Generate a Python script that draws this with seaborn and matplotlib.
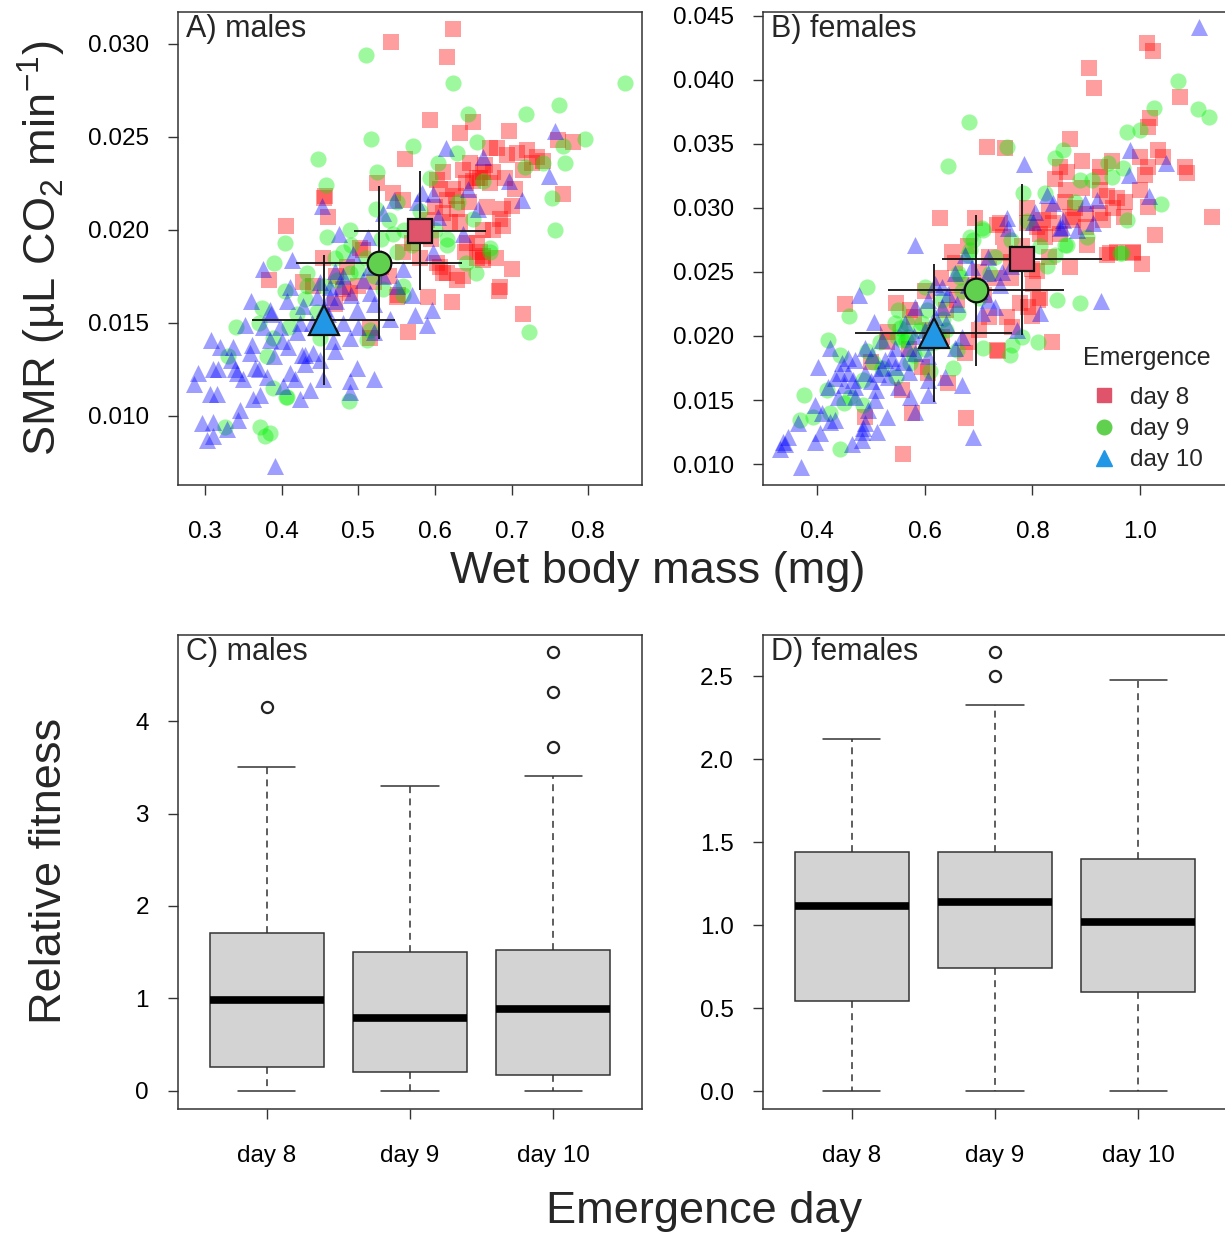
import numpy as np
import pandas as pd
import matplotlib
matplotlib.use("Agg")
import matplotlib.pyplot as plt
import seaborn as sns
from matplotlib.lines import Line2D

days = ["day 8", "day 9", "day 10"]

# ---- A) males: (wet body mass mg, SMR) ----
males_d8 = [
    (0.624, 0.0308), (0.543, 0.0301), (0.616, 0.0293), (0.594, 0.0259), (0.633, 0.0252), (0.650, 0.0258),
    (0.696, 0.0253), (0.780, 0.0247), (0.761, 0.0248), (0.561, 0.0238), (0.767, 0.0219), (0.525, 0.0225),
    (0.455, 0.0217), (0.461, 0.0207), (0.406, 0.0202), (0.672, 0.0244), (0.681, 0.0244), (0.694, 0.0240),
    (0.707, 0.0241), (0.720, 0.0243), (0.733, 0.0239), (0.741, 0.0237), (0.659, 0.0228), (0.663, 0.0231),
    (0.655, 0.0228), (0.676, 0.0231), (0.672, 0.0225), (0.646, 0.0236), (0.637, 0.0232), (0.611, 0.0231),
    (0.603, 0.0227), (0.607, 0.0222), (0.616, 0.0216), (0.624, 0.0222), (0.545, 0.0220), (0.558, 0.0216),
    (0.629, 0.0211), (0.611, 0.0209), (0.620, 0.0204), (0.633, 0.0204), (0.668, 0.0212), (0.689, 0.0211),
    (0.701, 0.0213), (0.685, 0.0206), (0.689, 0.0202), (0.676, 0.0200), (0.642, 0.0193), (0.655, 0.0193),
    (0.639, 0.0188), (0.659, 0.0188), (0.663, 0.0184), (0.679, 0.0185), (0.701, 0.0179), (0.607, 0.0180),
    (0.611, 0.0177), (0.629, 0.0173), (0.685, 0.0169), (0.684, 0.0167), (0.622, 0.0161), (0.591, 0.0164),
    (0.565, 0.0145), (0.715, 0.0155), (0.616, 0.0177), (0.663, 0.0186), (0.384, 0.0173), (0.428, 0.0172),
    (0.441, 0.0170), (0.454, 0.0185), (0.515, 0.0142), (0.515, 0.0147), (0.480, 0.0168), (0.489, 0.0166),
    (0.506, 0.0189), (0.558, 0.0188), (0.581, 0.0185), (0.457, 0.0218), (0.471, 0.0175), (0.502, 0.0190),
    (0.551, 0.0164), (0.637, 0.0175), (0.655, 0.0185), (0.663, 0.0200), (0.603, 0.0182), (0.552, 0.0165),
    (0.650, 0.0226), (0.665, 0.0235), (0.640, 0.0225), (0.628, 0.0218), (0.692, 0.0228), (0.705, 0.0222),
    (0.600, 0.0212), (0.590, 0.0205), (0.575, 0.0200), (0.570, 0.0193), (0.530, 0.0180), (0.520, 0.0172),
    (0.500, 0.0170), (0.540, 0.0175), (0.470, 0.0160), (0.485, 0.0180), (0.595, 0.0195), (0.645, 0.0215),
    (0.715, 0.0232), (0.727, 0.0236),
]
males_d9 = [
    (0.510, 0.0294), (0.624, 0.0279), (0.848, 0.0279), (0.762, 0.0267), (0.719, 0.0262), (0.643, 0.0262),
    (0.517, 0.0249), (0.572, 0.0245), (0.796, 0.0249), (0.767, 0.0245), (0.448, 0.0238), (0.769, 0.0236),
    (0.718, 0.0234), (0.741, 0.0236), (0.629, 0.0241), (0.604, 0.0236), (0.655, 0.0247), (0.458, 0.0224),
    (0.525, 0.0231), (0.753, 0.0217), (0.757, 0.0200), (0.523, 0.0211), (0.459, 0.0196), (0.404, 0.0193),
    (0.489, 0.0200), (0.594, 0.0228), (0.650, 0.0206), (0.616, 0.0195), (0.672, 0.0190), (0.663, 0.0226),
    (0.390, 0.0182), (0.340, 0.0148), (0.374, 0.0158), (0.404, 0.0167), (0.433, 0.0177), (0.433, 0.0170),
    (0.489, 0.0177), (0.532, 0.0168), (0.558, 0.0170), (0.558, 0.0165), (0.641, 0.0182), (0.654, 0.0177),
    (0.672, 0.0188), (0.723, 0.0145), (0.488, 0.0108), (0.372, 0.0094), (0.385, 0.0091), (0.378, 0.0089),
    (0.407, 0.0110), (0.389, 0.0115), (0.326, 0.0094), (0.330, 0.0132), (0.381, 0.0132), (0.389, 0.0142),
    (0.511, 0.0141), (0.515, 0.0146), (0.450, 0.0142), (0.472, 0.0173), (0.480, 0.0188), (0.616, 0.0192),
    (0.446, 0.0156), (0.420, 0.0155), (0.406, 0.0110), (0.530, 0.0195), (0.550, 0.0188), (0.510, 0.0185),
    (0.560, 0.0200), (0.500, 0.0178), (0.540, 0.0205), (0.570, 0.0192), (0.470, 0.0185), (0.520, 0.0175),
    (0.545, 0.0198), (0.490, 0.0192), (0.430, 0.0163), (0.455, 0.0170), (0.580, 0.0210), (0.600, 0.0200),
    (0.370, 0.0150), (0.410, 0.0148), (0.550, 0.0215), (0.630, 0.0215),
]
males_d10 = [
    (0.414, 0.0184), (0.376, 0.0179), (0.352, 0.0149), (0.308, 0.0141), (0.320, 0.0137), (0.337, 0.0137),
    (0.361, 0.0138), (0.291, 0.0123), (0.286, 0.0117), (0.310, 0.0125), (0.342, 0.0123), (0.307, 0.0112),
    (0.316, 0.0112), (0.346, 0.0103), (0.363, 0.0109), (0.372, 0.0111), (0.296, 0.0096), (0.310, 0.0097),
    (0.303, 0.0087), (0.310, 0.0089), (0.343, 0.0098), (0.329, 0.0093), (0.391, 0.0073), (0.381, 0.0121),
    (0.402, 0.0116), (0.424, 0.0109), (0.437, 0.0114), (0.411, 0.0123), (0.498, 0.0126), (0.489, 0.0119),
    (0.489, 0.0113), (0.521, 0.0120), (0.574, 0.0154), (0.590, 0.0149), (0.596, 0.0157), (0.542, 0.0152),
    (0.489, 0.0142), (0.467, 0.0140), (0.441, 0.0134), (0.427, 0.0133), (0.385, 0.0141), (0.398, 0.0148),
    (0.376, 0.0148), (0.385, 0.0157), (0.407, 0.0162), (0.428, 0.0159), (0.463, 0.0164), (0.471, 0.0162),
    (0.498, 0.0157), (0.515, 0.0166), (0.506, 0.0173), (0.493, 0.0187), (0.463, 0.0169), (0.446, 0.0164),
    (0.411, 0.0169), (0.515, 0.0180), (0.532, 0.0175), (0.558, 0.0179), (0.597, 0.0188), (0.424, 0.0150),
    (0.615, 0.0244), (0.663, 0.0239), (0.757, 0.0253), (0.749, 0.0229), (0.697, 0.0226), (0.714, 0.0216),
    (0.643, 0.0222), (0.656, 0.0211), (0.597, 0.0219), (0.583, 0.0220), (0.577, 0.0215), (0.547, 0.0216),
    (0.453, 0.0213), (0.475, 0.0198), (0.513, 0.0196), (0.532, 0.0209), (0.604, 0.0207), (0.637, 0.0198),
    (0.365, 0.0126), (0.339, 0.0125), (0.317, 0.0125), (0.334, 0.0130), (0.359, 0.0134), (0.417, 0.0120),
    (0.454, 0.0120), (0.431, 0.0133), (0.408, 0.0137), (0.386, 0.0155), (0.450, 0.0172), (0.478, 0.0170),
    (0.490, 0.0165), (0.470, 0.0178), (0.520, 0.0160), (0.455, 0.0158), (0.420, 0.0145), (0.440, 0.0150),
    (0.460, 0.0155), (0.480, 0.0150), (0.400, 0.0140), (0.430, 0.0128), (0.450, 0.0130), (0.470, 0.0135),
    (0.500, 0.0148), (0.520, 0.0145), (0.390, 0.0132), (0.370, 0.0125), (0.350, 0.0120), (0.530, 0.0185),
    (0.550, 0.0170), (0.480, 0.0175), (0.570, 0.0165), (0.360, 0.0162),
]

# ---- B) females ----
females_d8 = [
    (1.013, 0.0429), (1.024, 0.0423), (0.905, 0.0409), (0.914, 0.0394), (1.074, 0.0387), (1.018, 0.0370),
    (1.015, 0.0363), (0.870, 0.0354), (0.716, 0.0348), (0.749, 0.0347), (0.892, 0.0337), (0.948, 0.0337),
    (1.033, 0.0345), (1.043, 0.0340), (1.000, 0.0340), (1.015, 0.0332), (1.083, 0.0332), (1.087, 0.0327),
    (1.009, 0.0326), (0.851, 0.0332), (0.842, 0.0323), (0.864, 0.0328), (0.926, 0.0332), (0.926, 0.0324),
    (0.862, 0.0314), (0.892, 0.0316), (0.926, 0.0314), (0.939, 0.0309), (0.957, 0.0308), (0.972, 0.0305),
    (1.000, 0.0314), (1.015, 0.0301), (1.133, 0.0293), (1.028, 0.0279), (0.790, 0.0300), (0.820, 0.0291),
    (0.838, 0.0288), (0.851, 0.0280), (0.870, 0.0293), (0.875, 0.0291), (0.931, 0.0291), (0.926, 0.0296),
    (0.901, 0.0271), (0.944, 0.0265), (0.987, 0.0266), (0.740, 0.0288), (0.693, 0.0292), (0.823, 0.0277),
    (0.809, 0.0285), (0.628, 0.0292), (0.452, 0.0225), (0.547, 0.0226), (0.573, 0.0220), (0.651, 0.0266),
    (0.656, 0.0257), (0.799, 0.0252), (0.870, 0.0254), (0.939, 0.0263), (0.957, 0.0266), (0.987, 0.0265),
    (1.004, 0.0256), (0.836, 0.0195), (0.736, 0.0188), (0.677, 0.0136), (0.560, 0.0108), (0.576, 0.0140),
    (0.643, 0.0163), (0.792, 0.0223), (0.810, 0.0228), (0.799, 0.0216), (0.762, 0.0207), (0.675, 0.0187),
    (0.680, 0.0195), (0.632, 0.0199), (0.595, 0.0176), (0.606, 0.0171), (0.558, 0.0158), (0.489, 0.0137),
    (0.734, 0.0287), (0.745, 0.0277), (0.790, 0.0288), (0.814, 0.0280), (0.809, 0.0251), (0.801, 0.0241),
    (0.777, 0.0226), (0.814, 0.0230), (0.753, 0.0215), (0.734, 0.0189), (0.532, 0.0203), (0.600, 0.0235),
    (0.630, 0.0245), (0.660, 0.0240), (0.700, 0.0250), (0.720, 0.0262), (0.680, 0.0270), (0.750, 0.0265),
    (0.580, 0.0215), (0.530, 0.0195), (0.500, 0.0180), (0.710, 0.0232), (0.760, 0.0245), (0.880, 0.0300),
    (0.900, 0.0295), (0.950, 0.0300), (0.970, 0.0293), (0.860, 0.0305), (0.830, 0.0298), (0.780, 0.0270),
    (0.760, 0.0258), (0.730, 0.0245), (0.690, 0.0240), (0.660, 0.0228), (0.640, 0.0220), (0.700, 0.0205),
    (0.720, 0.0215), (0.610, 0.0205), (0.570, 0.0190), (0.830, 0.0262), (0.900, 0.0285),
]
females_d9 = [
    (0.682, 0.0367), (0.753, 0.0348), (1.070, 0.0399), (1.026, 0.0378), (1.108, 0.0377), (1.128, 0.0371),
    (0.976, 0.0359), (1.000, 0.0361), (0.842, 0.0339), (0.857, 0.0345), (0.940, 0.0335), (0.968, 0.0331),
    (0.948, 0.0324), (0.888, 0.0322), (0.911, 0.0322), (0.823, 0.0312), (0.782, 0.0312), (0.976, 0.0291),
    (1.039, 0.0303), (0.861, 0.0271), (0.901, 0.0277), (0.963, 0.0265), (0.706, 0.0284), (0.690, 0.0275),
    (0.643, 0.0333), (0.842, 0.0263), (0.966, 0.0265), (0.846, 0.0228), (0.888, 0.0226), (0.810, 0.0195),
    (0.758, 0.0185), (0.762, 0.0193), (0.781, 0.0199), (0.708, 0.0191), (0.653, 0.0175), (0.662, 0.0249),
    (0.680, 0.0263), (0.493, 0.0238), (0.459, 0.0216), (0.420, 0.0197), (0.443, 0.0185), (0.419, 0.0158),
    (0.376, 0.0154), (0.368, 0.0134), (0.443, 0.0112), (0.450, 0.0148), (0.485, 0.0146), (0.545, 0.0210),
    (0.558, 0.0197), (0.600, 0.0238), (0.632, 0.0228), (0.662, 0.0218), (0.595, 0.0210), (0.569, 0.0199),
    (0.684, 0.0277), (0.708, 0.0283), (0.684, 0.0267), (0.665, 0.0246), (0.721, 0.0249), (0.814, 0.0270),
    (0.827, 0.0255), (0.864, 0.0271), (0.660, 0.0189), (0.591, 0.0205), (0.634, 0.0213), (0.604, 0.0220),
    (0.567, 0.0210), (0.549, 0.0199), (0.517, 0.0195), (0.493, 0.0188), (0.554, 0.0206), (0.565, 0.0197),
    (0.504, 0.0180), (0.573, 0.0179), (0.547, 0.0168), (0.485, 0.0166), (0.461, 0.0152), (0.424, 0.0140),
    (0.393, 0.0137), (0.610, 0.0173), (0.625, 0.0201), (0.600, 0.0190), (0.640, 0.0205), (0.700, 0.0230),
    (0.730, 0.0262), (0.760, 0.0275), (0.520, 0.0175), (0.580, 0.0185), (0.670, 0.0235), (0.790, 0.0290),
    (0.880, 0.0305), (0.550, 0.0220), (0.620, 0.0195),
]
females_d10 = [
    (1.109, 0.0441), (0.784, 0.0334), (0.981, 0.0345), (1.048, 0.0335), (0.979, 0.0326), (1.017, 0.0309),
    (0.827, 0.0310), (0.838, 0.0304), (0.898, 0.0304), (0.920, 0.0306), (0.753, 0.0292), (0.755, 0.0284),
    (0.805, 0.0297), (0.801, 0.0289), (0.857, 0.0291), (0.883, 0.0283), (0.913, 0.0288), (0.851, 0.0284),
    (0.582, 0.0271), (0.855, 0.0285), (0.478, 0.0232), (0.506, 0.0211), (0.927, 0.0227), (0.814, 0.0218),
    (0.771, 0.0205), (0.718, 0.0249), (0.743, 0.0250), (0.688, 0.0254), (0.675, 0.0263), (0.718, 0.0262),
    (0.632, 0.0238), (0.632, 0.0223), (0.669, 0.0199), (0.656, 0.0191), (0.669, 0.0162), (0.690, 0.0121),
    (0.606, 0.0166), (0.606, 0.0154), (0.582, 0.0141), (0.573, 0.0152), (0.530, 0.0137), (0.511, 0.0125),
    (0.484, 0.0125), (0.484, 0.0119), (0.465, 0.0116), (0.402, 0.0176), (0.396, 0.0146), (0.424, 0.0133),
    (0.365, 0.0132), (0.396, 0.0117), (0.337, 0.0117), (0.331, 0.0112), (0.370, 0.0098), (0.433, 0.0167),
    (0.458, 0.0171), (0.489, 0.0171), (0.513, 0.0170), (0.532, 0.0168), (0.446, 0.0179), (0.471, 0.0181),
    (0.545, 0.0176), (0.526, 0.0181), (0.502, 0.0185), (0.489, 0.0191), (0.521, 0.0197), (0.545, 0.0191),
    (0.569, 0.0191), (0.582, 0.0187), (0.606, 0.0184), (0.563, 0.0210), (0.582, 0.0223), (0.606, 0.0228),
    (0.619, 0.0241), (0.643, 0.0233), (0.656, 0.0249), (0.718, 0.0228), (0.730, 0.0223), (0.706, 0.0218),
    (0.439, 0.0152), (0.471, 0.0152), (0.508, 0.0150), (0.495, 0.0142), (0.409, 0.0140), (0.433, 0.0134),
    (0.489, 0.0132), (0.346, 0.0121), (0.424, 0.0191), (0.458, 0.0183), (0.443, 0.0171), (0.467, 0.0166),
    (0.406, 0.0124), (0.341, 0.0116), (0.485, 0.0128), (0.638, 0.0168), (0.500, 0.0165), (0.520, 0.0175),
    (0.540, 0.0183), (0.560, 0.0180), (0.580, 0.0200), (0.600, 0.0205), (0.620, 0.0215), (0.640, 0.0210),
    (0.660, 0.0225), (0.680, 0.0240), (0.700, 0.0235), (0.470, 0.0160), (0.450, 0.0162), (0.420, 0.0160),
    (0.510, 0.0158), (0.550, 0.0160), (0.570, 0.0172), (0.600, 0.0195), (0.740, 0.0240), (0.760, 0.0255),
]

# group means +/- SD (big markers with cross bars)
males_mass_mean = [0.581, 0.527, 0.455]
males_mass_sd = [0.086, 0.108, 0.093]
males_smr_mean = [0.01995, 0.01824, 0.01516]
males_smr_sd = [0.0032, 0.0041, 0.0035]
females_mass_mean = [0.781, 0.695, 0.617]
females_mass_sd = [0.148, 0.163, 0.146]
females_smr_mean = [0.0260, 0.02359, 0.02023]
females_smr_sd = [0.0059, 0.0059, 0.0054]

# ---- C/D) relative fitness box statistics ----
males_whislo = [0.0, 0.0, 0.0]
males_q1 = [0.26, 0.205, 0.17]
males_med = [0.98, 0.79, 0.89]
males_q3 = [1.71, 1.50, 1.52]
males_whishi = [3.50, 3.30, 3.41]
males_out = [[4.15], [], [3.72, 4.31, 4.75]]
females_whislo = [0.0, 0.0, 0.0]
females_q1 = [0.542, 0.741, 0.596]
females_med = [1.114, 1.14, 1.018]
females_q3 = [1.44, 1.44, 1.398]
females_whishi = [2.12, 2.325, 2.476]
females_out = [[], [2.50, 2.645], []]

pt_cols = ["#FF0000", "#00F000", "#0000FF"]
mean_cols = ["#DF536B", "#61D04F", "#2297E6"]
marks = ["s", "o", "^"]

sns.set_style("ticks")
plt.rcParams["font.family"] = ["Liberation Sans", "DejaVu Sans"]
plt.rcParams["mathtext.fontset"] = "custom"
plt.rcParams["mathtext.rm"] = "Liberation Sans"
plt.rcParams["mathtext.it"] = "Liberation Sans:italic"
plt.rcParams["mathtext.default"] = "regular"

fig = plt.figure(figsize=(12.25, 12.35), dpi=100)
W, H = 1225, 1235
def add_ax(l, t, w=464, h=473):
    return fig.add_axes([l / W, 1 - (t + h) / H, w / W, h / H])

axA = add_ax(178, 12)
axB = add_ax(763, 12)
axC = add_ax(178, 635, h=474)
axD = add_ax(763, 635, h=474)


def style_ax(ax):
    for sp in ax.spines.values():
        sp.set_visible(True)
        sp.set_color("#333333")
        sp.set_linewidth(1.1)
    ax.tick_params(direction="out", length=7, width=1, color="#333333",
                   labelsize=17.5, labelcolor="black")
    ax.tick_params(axis="x", pad=19)
    ax.tick_params(axis="y", pad=14)


def scatter_panel(ax, groups, mx, sx, my, sy, title):
    sizes = [125, 135, 150]
    for g, c, m, s in zip(groups, pt_cols, marks, sizes):
        df = pd.DataFrame(g, columns=["mass", "smr"])
        sns.scatterplot(data=df, x="mass", y="smr", color=c, marker=m, s=s,
                        alpha=0.38, linewidth=0, ax=ax, zorder=2)
    ax.errorbar(mx, my, xerr=sx, yerr=sy, fmt="none", ecolor="#111111",
                elinewidth=1.3, capsize=0, zorder=3)
    msz = [17, 17, 22]
    for i in range(3):
        ax.plot(mx[i], my[i], marker=marks[i], ms=msz[i], mfc=mean_cols[i],
                mec="#111111", mew=1.6, ls="", zorder=4)
    ax.set_xlabel("")
    ax.set_ylabel("")
    ax.text(0.017, 0.996, title, transform=ax.transAxes, ha="left", va="top", fontsize=22)
    style_ax(ax)


scatter_panel(axA, [males_d8, males_d9, males_d10], males_mass_mean, males_mass_sd,
              males_smr_mean, males_smr_sd, "A) males")
axA.set_xlim(0.265, 0.870)
axA.set_ylim(0.00629, 0.0317)
axA.set_xticks([0.3, 0.4, 0.5, 0.6, 0.7, 0.8])
axA.set_xticklabels(["0.3", "0.4", "0.5", "0.6", "0.7", "0.8"])
axA.set_yticks([0.010, 0.015, 0.020, 0.025, 0.030])
axA.set_yticklabels(["0.010", "0.015", "0.020", "0.025", "0.030"])

scatter_panel(axB, [females_d8, females_d9, females_d10], females_mass_mean, females_mass_sd,
              females_smr_mean, females_smr_sd, "B) females")
axB.set_xlim(0.2997, 1.1614)
axB.set_ylim(0.00836, 0.04531)
axB.set_xticks([0.4, 0.6, 0.8, 1.0])
axB.set_xticklabels(["0.4", "0.6", "0.8", "1.0"])
axB.set_yticks([0.010, 0.015, 0.020, 0.025, 0.030, 0.035, 0.040, 0.045])
axB.set_yticklabels(["0.010", "0.015", "0.020", "0.025", "0.030", "0.035", "0.040", "0.045"])

handles = [Line2D([], [], marker=m, ls="", mfc=c, mec=c, ms=s)
           for m, c, s in zip(marks, mean_cols, [10, 10.5, 11])]
axB.legend(handles, days, loc="upper left",
           bbox_to_anchor=(1087 / W, 1 - 382 / H), bbox_transform=fig.transFigure,
           frameon=False, fontsize=17.5, handlelength=1.0,
           handletextpad=0.55, labelspacing=0.38, borderpad=0.2, borderaxespad=0)
fig.text(1147 / W, 1 - 358 / H, "Emergence", ha="center", va="center", fontsize=18)


def box_panel(ax, lo, q1, med, q3, hi, out, title):
    stats = [dict(whislo=a, q1=b, med=c, q3=d, whishi=e, fliers=f, label=lab)
             for a, b, c, d, e, f, lab in zip(lo, q1, med, q3, hi, out, days)]
    ax.bxp(stats, positions=[0, 1, 2], widths=0.8, capwidths=0.4, patch_artist=True,
           boxprops=dict(facecolor="#D3D3D3", edgecolor="#333333", linewidth=1.1),
           whiskerprops=dict(color="#333333", linewidth=1.1, linestyle=(0, (4.5, 3.5))),
           capprops=dict(color="#333333", linewidth=1.1),
           medianprops=dict(color="black", linewidth=5.5, solid_capstyle="butt"),
           flierprops=dict(marker="o", mfc="none", mec="#222222", ms=8, mew=1.6))
    ax.set_xlim(-0.62, 2.62)
    ax.text(0.017, 0.996, title, transform=ax.transAxes, ha="left", va="top", fontsize=22)
    style_ax(ax)


box_panel(axC, males_whislo, males_q1, males_med, males_q3, males_whishi, males_out, "C) males")
axC.set_ylim(-0.195, 4.93)
axC.set_yticks([0, 1, 2, 3, 4])
axC.set_yticklabels(["0", "1", "2", "3", "4"])

box_panel(axD, females_whislo, females_q1, females_med, females_q3, females_whishi, females_out, "D) females")
axD.set_ylim(-0.108, 2.747)
axD.set_yticks([0.0, 0.5, 1.0, 1.5, 2.0, 2.5])
axD.set_yticklabels(["0.0", "0.5", "1.0", "1.5", "2.0", "2.5"])

fig.text(658 / W, 1 - 571 / H, "Wet body mass (mg)", ha="center", va="center", fontsize=32.5)
fig.text(704 / W, 1 - 1211 / H, "Emergence day", ha="center", va="center", fontsize=32.5)
fig.text(42 / W, 1 - 248 / H, "SMR (µL CO$_2$ min$^{-1}$)", ha="center", va="center",
         rotation=90, fontsize=32.5)
fig.text(50 / W, 1 - 871 / H, "Relative fitness", ha="center", va="center",
         rotation=90, fontsize=32.5)

fig.savefig("out.png", dpi=100)
